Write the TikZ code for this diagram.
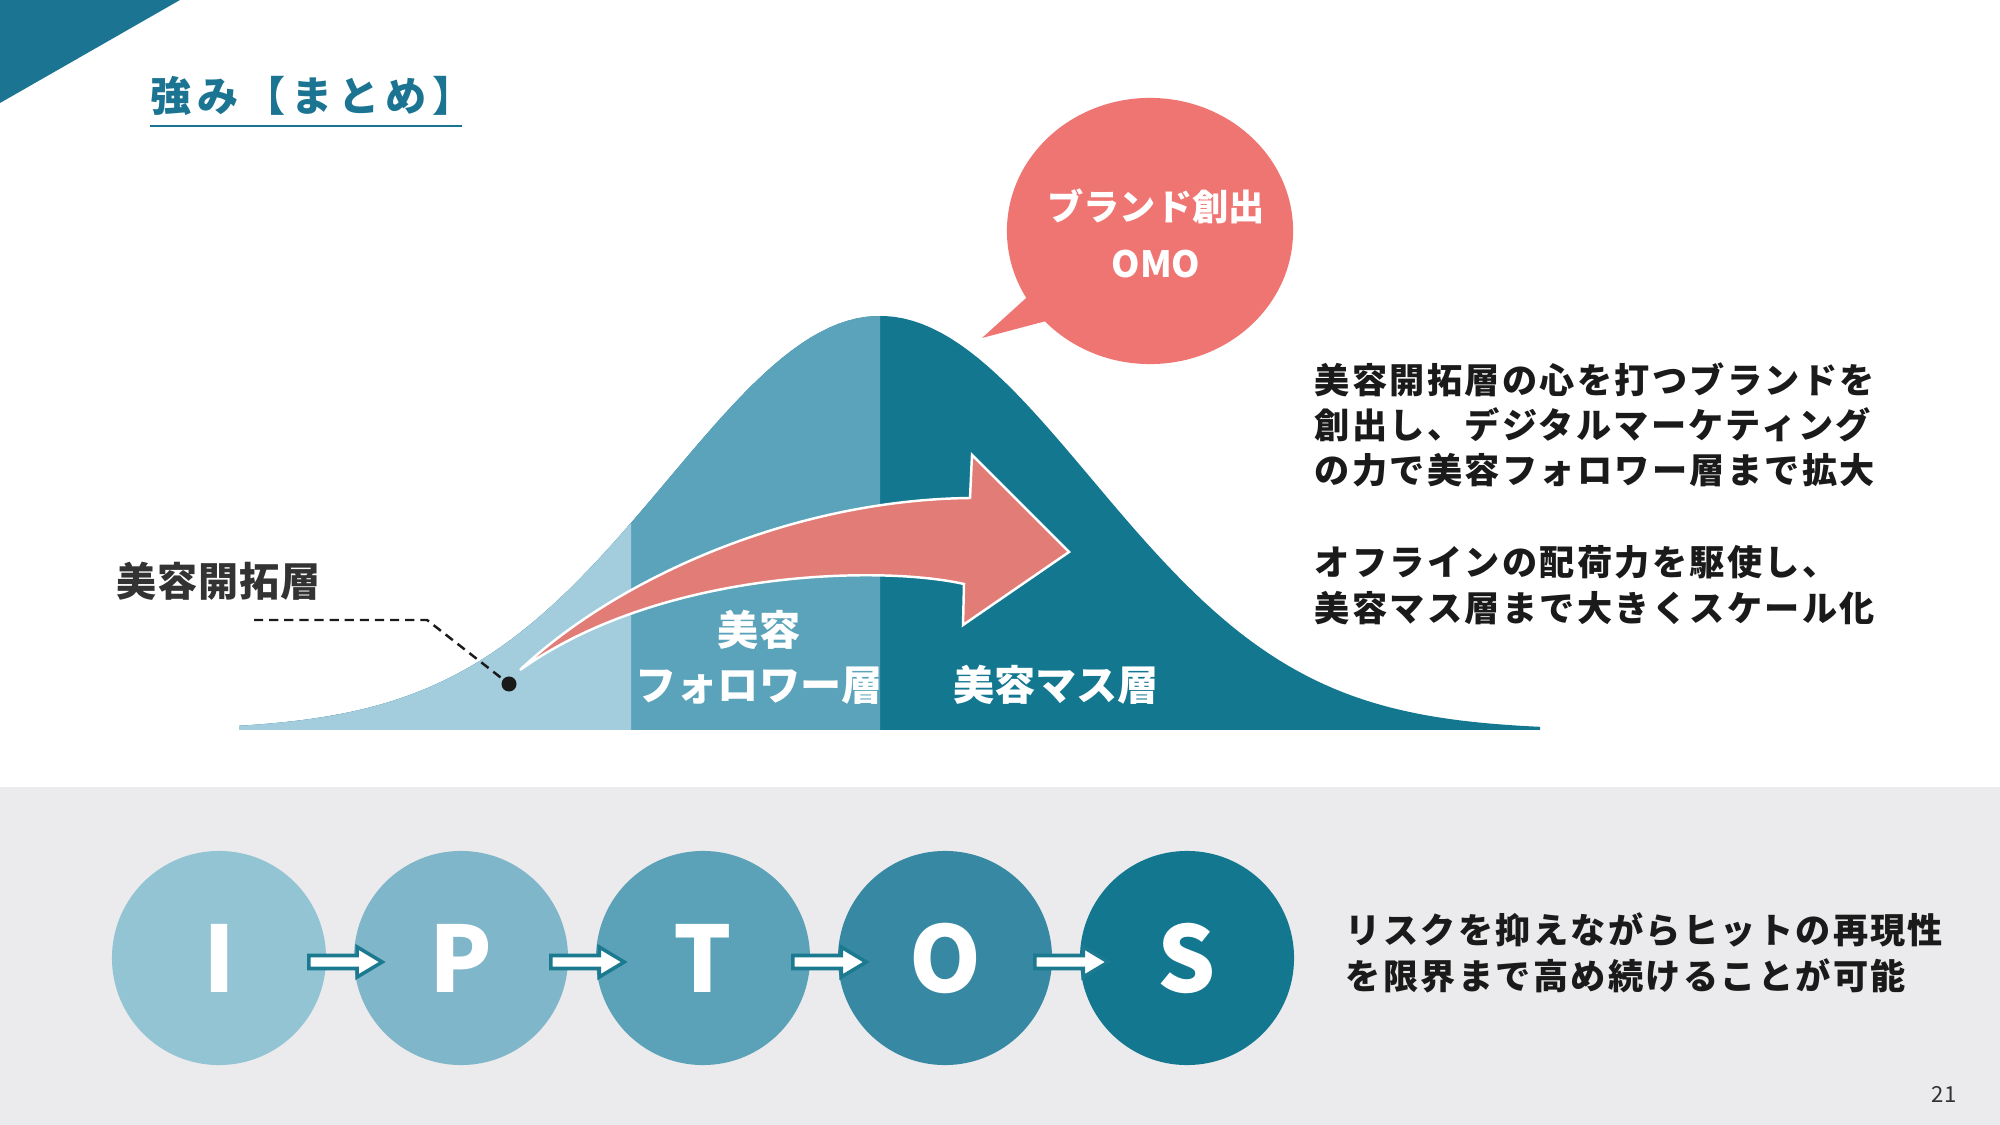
\documentclass[tikz,border=0pt]{standalone}
\usepackage{fontspec}
\setmainfont{Noto Sans CJK JP}
\usepackage{tikz}
\usetikzlibrary{calc,shapes.geometric}
\definecolor{deepteal}{HTML}{1B7491}
\definecolor{tealline}{HTML}{1C7A90}
\definecolor{curvelight}{HTML}{A3CDDD}
\definecolor{curvemid}{HTML}{5BA3BA}
\definecolor{curvedark}{HTML}{137790}
\definecolor{arrowred}{HTML}{E17C77}
\definecolor{bubblered}{HTML}{EF7572}
\definecolor{band}{HTML}{EBEBED}
\definecolor{ink}{HTML}{1A1A1A}
\definecolor{inkgrey}{HTML}{333333}
\definecolor{iptI}{HTML}{93C4D4}
\definecolor{iptP}{HTML}{80B6C9}
\definecolor{iptT}{HTML}{5BA2B8}
\definecolor{iptO}{HTML}{3788A3}
\definecolor{iptS}{HTML}{137790}
\tikzset{
  heading/.style={font=\bfseries\fontsize{11.7pt}{14pt}\selectfont\addfontfeatures{LetterSpace=14},text=deepteal,inner sep=0pt},
  bodytext/.style={font=\bfseries\fontsize{10pt}{12.9pt}\selectfont\addfontfeatures{LetterSpace=6.6},text=ink,align=left,inner sep=0pt},
  layerlabel/.style={font=\bfseries\fontsize{11.7pt}{15.6pt}\selectfont,text=white,align=center,inner sep=0pt},
  bubble/.style={ellipse,fill=bubblered,minimum width=2.86cm,minimum height=2.66cm,inner sep=0pt},
  bubbletext/.style={font=\bfseries\fontsize{10.3pt}{16.2pt}\selectfont,text=white,align=center,inner sep=0pt},
  phase/.style={circle,minimum size=2.14cm,inner sep=0pt,text=white,font=\bfseries\fontsize{26pt}{28pt}\selectfont},
  hop/.style={fill=white,draw=tealline,line width=1pt,line join=miter},
  bigarrow/.style={fill=arrowred,draw=white,line width=0.7pt,line join=miter},
  leader/.style={draw=ink,line width=0.7pt,dash pattern=on 2.6pt off 1.7pt},
}
\begin{document}
\begin{tikzpicture}[x=0.01cm,y=-0.01cm]
  \useasboundingbox (0,0) rectangle (2000,1125);
  % page and bottom band
  \fill[white] (0,0) rectangle (2000,1125);
  \fill[band] (0,787) rectangle (2000,1125);
  \fill[deepteal] (0,0) -- (180,0) -- (0,103) -- cycle;
  % title
  \node[heading,anchor=west] (ttl) at (150,96) {強み【まとめ】};
  \draw[deepteal,line width=0.5pt] (150,126) -- (462,126);
  % bell curve, three layers
  \foreach \c/\xr in {curvedark/1600,curvemid/880,curvelight/631} {
    \begin{scope}
      \clip (0,0) rectangle (\xr,800);
      \fill[\c] (239,730) -- plot[domain=239:1540,samples=140] (\x,{730-414*exp(-0.5*((\x-880)/211.5)^2)}) -- (1540,730) -- cycle;
    \end{scope}
  }
  % growth arrow
  \filldraw[bigarrow] (520,670) .. controls (615,580) and (790,500) .. (970,498) -- (972,455) -- (1069,552)
    -- (963,625) -- (964,584) .. controls (880,565) and (660,570) .. (520,670) -- cycle;
  % pioneer label and pointer
  \node[circle,fill=ink,minimum size=0.15cm,inner sep=0pt] (dot) at (509,684) {};
  \node[font=\bfseries\fontsize{11.4pt}{13pt}\selectfont\addfontfeatures{LetterSpace=2},text=inkgrey,inner sep=0pt,anchor=west] (pioneer) at (116,581) {美容開拓層};
  \coordinate (lead) at (254,620);
  \draw[leader] (lead) -- ++(173,0) -- (dot);
  % layer names
  \node[layerlabel] (follower) at (759,657) {美容\\フォロワー層};
  \node[layerlabel] (mass) at (1056,685) {美容マス層};
  % speech bubble
  \node[bubble] (brandbubble) at (1150,231) {};
  \fill[bubblered] ($(brandbubble.center)+(-115,59)$) -- ($(brandbubble.center)+(-168,107)$) -- ($(brandbubble.center)+(-100,89)$) -- cycle;
  \node[bubbletext] (brandtext) at ($(brandbubble.center)+(6,2)$) {ブランド創出\\OMO};
  % right notes
  \node[bodytext,anchor=west] (brand) at (1314,425) {美容開拓層の心を打つブランドを\\創出し、デジタルマーケティング\\の力で美容フォロワー層まで拡大};
  \node[bodytext,anchor=west] (offline) at (1314,585) {オフラインの配荷力を駆使し、\\美容マス層まで大きくスケール化};
  % IPTOS chain
  \foreach \n/\t/\c [count=\i from 0] in {ci/I/iptI,cp/P/iptP,ct/T/iptT,co/O/iptO,cs/S/iptS}
    \node[phase,fill=\c] (\n) at (219+242*\i,958) {\t};
  \foreach \a/\b in {ci/cp,cp/ct,ct/co,co/cs}
    \draw[hop] ($(\a.east)+(-18,-2.5)$) -- ($(\b.west)+(4,-2.5)$) -- ($(\b.west)+(4,-11)$) -- ($(\b.west)+(29,4)$)
      -- ($(\b.west)+(4,19)$) -- ($(\b.west)+(4,10.5)$) -- ($(\a.east)+(-18,10.5)$) -- cycle;
  \node[bodytext,anchor=west] (repro) at (1345,953) {リスクを抑えながらヒットの再現性\\を限界まで高め続けることが可能};
  \node[font=\fontsize{6.3pt}{7pt}\selectfont,text=inkgrey,inner sep=0pt] (page) at (1944,1094) {21};
\end{tikzpicture}
\end{document}
